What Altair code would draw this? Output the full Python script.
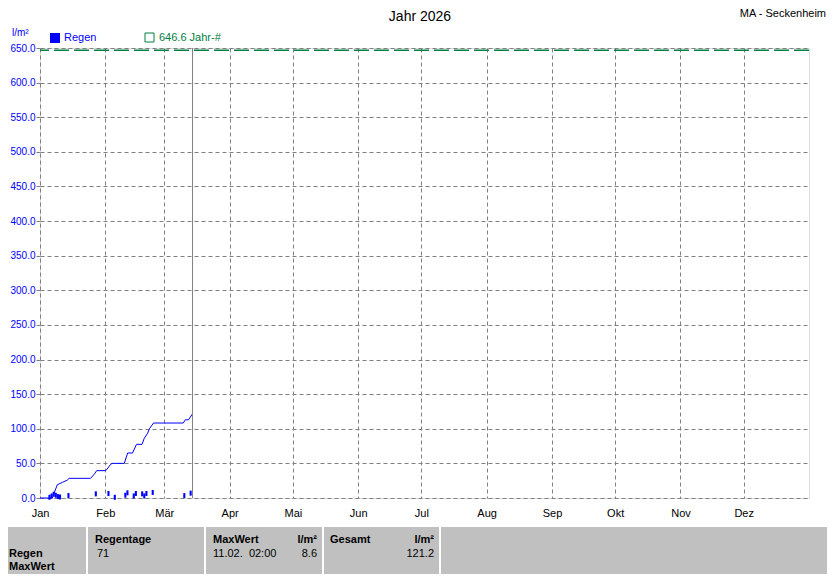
import altair as alt
import pandas as pd

# ---------------- data ----------------
MONTHS = ["Jan", "Feb", "Mär", "Apr", "Mai", "Jun", "Jul", "Aug", "Sep", "Okt", "Nov", "Dez"]
MONTH_START = [0, 31, 59, 90, 120, 151, 181, 212, 243, 273, 304, 334]
Y_TICKS = [0, 50, 100, 150, 200, 250, 300, 350, 400, 450, 500, 550, 600, 650]

# daily rain (day of year, 0 = 1 Jan) in l/m²
RAIN_DAY = [4, 5, 6, 7, 8, 9, 13, 26, 32, 35, 40, 41, 44, 45, 48, 49, 50, 53, 68, 71]
RAIN_MM = [1.0, 3.0, 5.5, 4.0, 2.0, 1.5, 3.5, 6.0, 6.5, 1.0, 4.0, 7.5, 3.0, 6.5, 6.0, 3.0, 6.5, 8.0, 3.5, 7.0]

# cumulative rain sum
CUM_DAY = [0, 5.8, 8.2, 9.5, 10.6, 13.0, 13.8, 24.0, 25.9, 26.9, 31.0, 31.6, 33.5, 34.3, 40.0,
           41.6, 43.9, 45.8, 48.4, 49.5, 51.1, 51.9, 53.9, 68.0, 69.0, 70.5, 72.3]
CUM_MM = [0, 0, 19.0, 21.0, 22.5, 26.0, 28.4, 28.4, 34.9, 39.5, 39.5, 40.7, 48.5, 50.0, 50.0,
          65.0, 65.0, 77.5, 77.5, 86.3, 93.6, 100.0, 108.3, 108.3, 113.0, 113.0, 121.2]

NOW_DAY = [72.4]
YEAR_AVG = [646.6]

TITLE = "Jahr 2026"
STATION = "MA - Seckenheim"
UNIT = "l/m²"
LEGEND_RAIN = "Regen"
LEGEND_AVG = "646.6 Jahr-#"

ROW_LABELS = ["Regen", "MaxWert"]
HEAD_DAYS, VAL_DAYS = "Regentage", "71"
HEAD_MAX, VAL_MAX_WHEN, VAL_MAX = "MaxWert", "11.02.\u00a0 02:00", "8.6"
HEAD_TOTAL, VAL_TOTAL = "Gesamt", "121.2"

# ---------------- styling ----------------
FONT = "Liberation Sans"
BLUE = "#0000ff"
GREEN = "#008040"
GRAY = "#808080"
BAND = "#c0c0c0"
W, H = 769, 450

x_scale = alt.Scale(domain=[0, 365], nice=False, zero=False, padding=0)
y_scale = alt.Scale(domain=[0, 650], nice=False, padding=0)

label_expr = ("[" + ",".join(f"'{m}'" for m in MONTHS) + "][indexof(["
              + ",".join(str(v) for v in MONTH_START) + "], datum.value)]")

x_axis = alt.Axis(values=MONTH_START, labelExpr=label_expr, grid=True, gridDash=[4, 3],
                  gridColor=GRAY, gridWidth=1, domain=False, ticks=False, labelPadding=9,
                  labelFont=FONT, labelFontSize=11, labelColor="black", labelAngle=0,
                  labelFlush=False, labelOverlap=False, title=None)
y_axis = alt.Axis(values=Y_TICKS, format=".1f", grid=True, gridDash=[4, 3], gridColor=GRAY,
                  gridWidth=1, domain=False, tickColor=GRAY, tickSize=4, labelPadding=1,
                  labelColor=BLUE, labelFont=FONT, labelFontSize=10, labelFlush=False,
                  labelOverlap=False, title=None)

rain = pd.DataFrame({"d": RAIN_DAY, "mm": RAIN_MM})
rain["d2"] = rain["d"] + 1
cum = pd.DataFrame({"d": CUM_DAY, "mm": CUM_MM})

bars = alt.Chart(rain).mark_bar(color=BLUE).encode(
    x=alt.X("d:Q", scale=x_scale, axis=x_axis),
    x2="d2:Q",
    y=alt.Y("mm:Q", scale=y_scale, axis=y_axis),
)
line = alt.Chart(cum).mark_line(color=BLUE, strokeWidth=1).encode(
    x=alt.X("d:Q", scale=x_scale, axis=x_axis), y=alt.Y("mm:Q", scale=y_scale, axis=y_axis))
avg = alt.Chart(pd.DataFrame({"mm": YEAR_AVG})).mark_rule(
    color=GREEN, strokeWidth=1.5, strokeDash=[15, 5]).encode(
    y=alt.Y("mm:Q", scale=y_scale, axis=y_axis))
now = alt.Chart(pd.DataFrame({"d": NOW_DAY})).mark_rule(
    color=GRAY, strokeWidth=1).encode(x=alt.X("d:Q", scale=x_scale, axis=x_axis))


def txt(text, x, y, align="left", color="black", size=11, bold=False):
    return alt.Chart(pd.DataFrame({"t": [text]})).mark_text(
        align=align, baseline="middle", font=FONT, fontSize=size, color=color,
        fontWeight="bold" if bold else "normal").encode(
        text="t:N", x=alt.value(x), y=alt.value(y))


def box(x, x2, y, y2, **kw):
    return alt.Chart(pd.DataFrame({"a": [0]})).mark_rect(**kw).encode(
        x=alt.value(x), x2=alt.value(x2), y=alt.value(y), y2=alt.value(y2))


def vline(x, y, y2, color, width):
    return alt.Chart(pd.DataFrame({"a": [0]})).mark_rule(color=color, strokeWidth=width).encode(
        x=alt.value(x), y=alt.value(y), y2=alt.value(y2))


# header / legend
deco = [
    txt(TITLE, 380, -31, align="center", size=14),
    txt(STATION, 786, -34, align="right", size=11),
    txt(UNIT, -28, -15, color=BLUE, size=10),
    box(10, 20, -15, -5, color=BLUE),
    txt(LEGEND_RAIN, 24, -10, color=BLUE),
    box(105, 114, -15, -6, fillOpacity=0, stroke=GREEN, strokeWidth=1),
    txt(LEGEND_AVG, 119, -10, color=GREEN),
]

# bottom table
BT, BB = 479, 526
R1, R2, R3 = 492, 506, 519
table = [
    box(-32, 787, BT, BB, color=BAND),
    vline(47, BT, BB, "white", 2),
    vline(165, BT, BB, "white", 2),
    vline(283, BT, BB, "white", 2),
    vline(400, BT, BB, "white", 2),
    txt(ROW_LABELS[0], -31, R2, bold=True),
    txt(ROW_LABELS[1], -31, R3, bold=True),
    txt(HEAD_DAYS, 55, R1, bold=True),
    txt(VAL_DAYS, 57, R2),
    txt(HEAD_MAX, 173, R1, bold=True),
    txt(UNIT, 277, R1, align="right", bold=True),
    txt(VAL_MAX_WHEN, 173, R2),
    txt(VAL_MAX, 277, R2, align="right"),
    txt(HEAD_TOTAL, 290, R1, bold=True),
    txt(UNIT, 394, R1, align="right", bold=True),
    txt(VAL_TOTAL, 394, R2, align="right"),
]

chart = alt.layer(bars, line, avg, now, *deco, *table).properties(
    width=W, height=H,
    autosize=alt.AutoSizeParams(type="none"),
    padding={"left": 32, "top": 40, "right": 18, "bottom": 76},
).configure_view(stroke=GRAY, strokeWidth=3).configure(background="white")

chart.save("out.html", embed_options={"renderer": "svg", "actions": False})
